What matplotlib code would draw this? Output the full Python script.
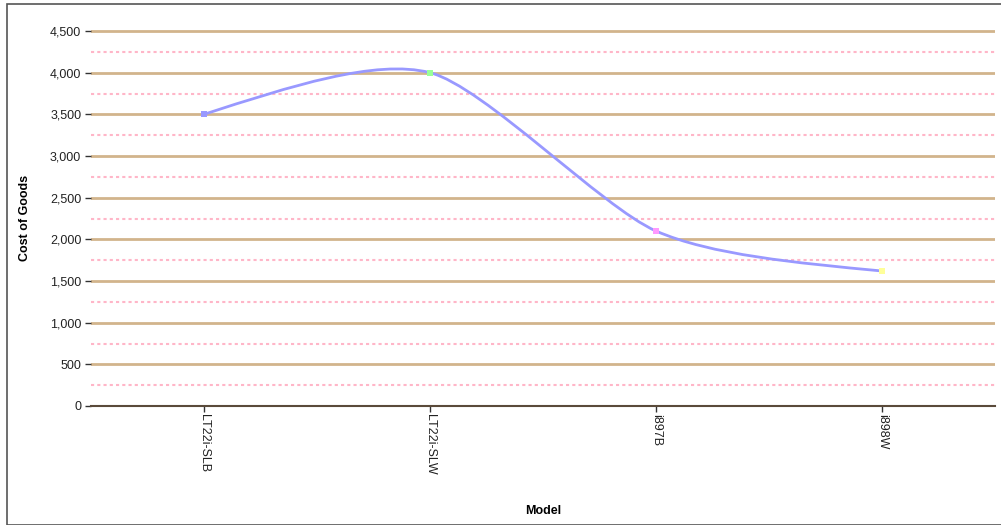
import numpy as np
import matplotlib.pyplot as plt
from matplotlib.patches import Rectangle, PathPatch
from matplotlib.path import Path

# ── Data ──────────────────────────────────────────────────────────────────────
models = ["LT22i-SLB", "LT22i-SLW", "i897B", "i898W"]
cost_of_goods = [3500, 4000, 2100, 1620]
marker_colors = ["#9999ff", "#99ff99", "#ff99ff", "#ffff99"]
y_ticks = [0, 500, 1000, 1500, 2000, 2500, 3000, 3500, 4000, 4500]

plt.rcParams["font.family"] = ["Liberation Sans", "DejaVu Sans"]


def bezier_path(xs, ys, k=0.12):
    """Smooth bezier through the points, natural ends (drawing only)."""
    pts = np.column_stack([xs, ys]).astype(float)
    n = len(pts)
    verts, codes = [pts[0]], [Path.MOVETO]
    for i in range(n - 1):
        p0, p3 = pts[i], pts[i + 1]
        c1 = p0 + k * (pts[i + 1] - pts[i - 1]) if i > 0 else None
        c2 = p3 - k * (pts[i + 2] - pts[i]) if i < n - 2 else None
        if c1 is None:
            c1 = (p0 + c2) / 2
        if c2 is None:
            c2 = (c1 + p3) / 2
        verts += [c1, c2, p3]
        codes += [Path.CURVE4] * 3
    return Path(verts, codes)


W, H = 1001, 525
fig = plt.figure(figsize=(W / 100, H / 100), dpi=100)
fig.patches.append(Rectangle((7 / W, 0), 1, 1 - 4 / H, transform=fig.transFigure,
                             fill=False, edgecolor="#555555", linewidth=1.2))

left, right, bottom, top = 91, 995, 406, 26
ax = fig.add_axes([left / W, (H - bottom) / H, (right - left) / W, (bottom - top) / H])

x = np.arange(len(models))
ymax = 4500 * (bottom - top) / (bottom - 31)

# gridlines
for v in y_ticks[1:]:
    ax.axhline(v, color="#d2b48c", linewidth=2, zorder=1)
for v in y_ticks[:-1]:
    ax.axhline(v + 250, color="#ffb6c8", linewidth=1.5, linestyle=(0, (1.5, 1.5)), zorder=1)

ax.add_patch(PathPatch(bezier_path(x, cost_of_goods), facecolor="none",
                       edgecolor="#9999ff", linewidth=2, zorder=3))
for xi, yi, c in zip(x, cost_of_goods, marker_colors):
    ax.plot(xi, yi, marker="s", markersize=5, color=c, markeredgewidth=0, zorder=4)

ax.set_xlim(-0.5, len(models) - 0.5)
ax.set_ylim(0, ymax)
ax.set_yticks(y_ticks)
ax.set_yticklabels([f"{v:,}" for v in y_ticks], fontsize=9, color="#222222")
ax.set_xticks(x)
ax.set_xticklabels(models, rotation=270, fontsize=9, color="#222222")
ax.tick_params(axis="y", length=4, width=1, color="#333333", pad=3)
ax.tick_params(axis="x", length=4, width=1, color="#333333", pad=2)

for s in ["top", "right", "left"]:
    ax.spines[s].set_visible(False)
ax.spines["bottom"].set_color("#5a4a3a")
ax.spines["bottom"].set_linewidth(1.5)

fig.text(25 / W, 1 - 218 / H, "Cost of Goods", rotation=90, ha="center", va="center",
         fontsize=9, fontweight="bold")
fig.text(543 / W, 1 - 511 / H, "Model", ha="center", va="center",
         fontsize=9, fontweight="bold")

fig.savefig("out.png", dpi=100)
